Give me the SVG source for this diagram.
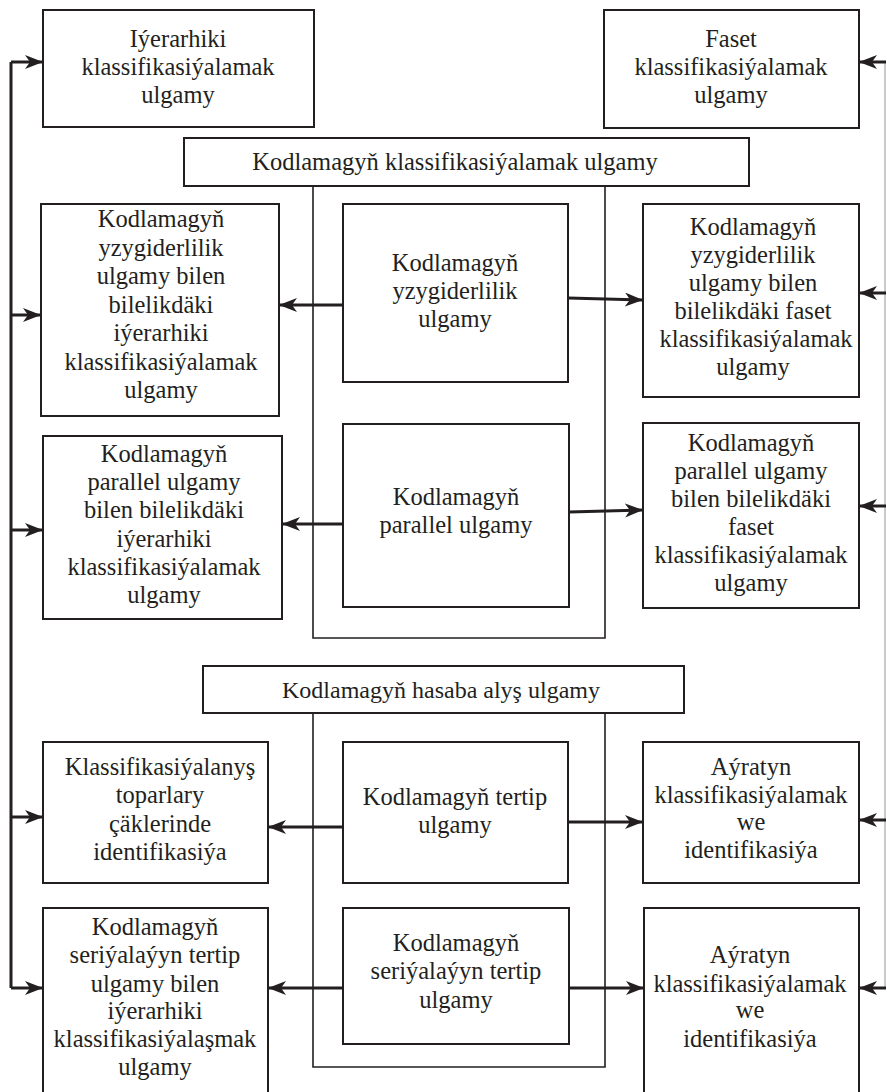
<svg xmlns="http://www.w3.org/2000/svg" width="887" height="1092" viewBox="0 0 887 1092">
<defs>
<marker id="ah" markerUnits="userSpaceOnUse" markerWidth="20" markerHeight="16" refX="18" refY="7" orient="auto">
<path d="M0,0 L18,7 L0,14 L5,7 Z" fill="#231f20"/>
</marker>
<style>
.box{fill:#fff;stroke:#231f20;stroke-width:2}
.frame{fill:none;stroke:#231f20;stroke-width:1.6}
.t{font-family:"Liberation Serif","Times New Roman",serif;font-size:24.5px;fill:#231f20;text-anchor:middle}
.c{fill:none;stroke:#231f20;stroke-width:3;marker-end:url(#ah)}
.bus{fill:none;stroke:#231f20;stroke-width:3}
.rbus{fill:none;stroke:#b8b8b8;stroke-width:1.5}
</style>
</defs>
<rect width="887" height="1092" fill="#fff"/>
<g id="frames">
<path class="frame" d="M313,186 V638 H605 V186"/>
<path class="frame" d="M313,713 V1067 H605 V713"/>
</g>
<g id="n-hier"><rect class="box" x="43" y="10" width="271" height="117"/>
<text class="t" x="178" y="47">Iýerarhiki</text><text class="t" x="178" y="75">klassifikasiýalamak</text><text class="t" x="178" y="103">ulgamy</text></g>
<g id="n-faset"><rect class="box" x="604" y="10" width="255" height="118"/>
<text class="t" x="731" y="47">Faset</text><text class="t" x="731" y="75">klassifikasiýalamak</text><text class="t" x="731" y="103">ulgamy</text></g>
<g id="n-kks"><rect class="box" x="184" y="138" width="565" height="48"/>
<text class="t" x="455" y="170">Kodlamagyň klassifikasiýalamak ulgamy</text></g>
<g id="n-l1"><rect class="box" x="41" y="204" width="238" height="212"/>
<text class="t"><tspan x="161" y="227">Kodlamagyň</tspan><tspan x="161" y="255.5">yzygiderlilik</tspan><tspan x="161" y="284">ulgamy bilen</tspan><tspan x="161" y="312.5">bilelikdäki</tspan><tspan x="161" y="341">iýerarhiki</tspan><tspan x="161" y="369.5">klassifikasiýalamak</tspan><tspan x="161" y="398">ulgamy</tspan></text></g>
<g id="n-m1"><rect class="box" x="343" y="204" width="225" height="178"/>
<text class="t"><tspan x="455" y="271">Kodlamagyň</tspan><tspan x="455" y="299">yzygiderlilik</tspan><tspan x="455" y="327">ulgamy</tspan></text></g>
<g id="n-r1"><rect class="box" x="643" y="204" width="216" height="193"/>
<text class="t"><tspan x="753" y="235">Kodlamagyň</tspan><tspan x="753" y="263">yzygiderlilik</tspan><tspan x="753" y="291">ulgamy bilen</tspan><tspan x="753" y="319">bilelikdäki faset</tspan><tspan x="756" y="347">klassifikasiýalamak</tspan><tspan x="753" y="375">ulgamy</tspan></text></g>
<g id="n-l2"><rect class="box" x="43" y="436" width="239" height="183"/>
<text class="t"><tspan x="164" y="462">Kodlamagyň</tspan><tspan x="164" y="490">parallel ulgamy</tspan><tspan x="164" y="518">bilen bilelikdäki</tspan><tspan x="164" y="547">iýerarhiki</tspan><tspan x="164" y="575">klassifikasiýalamak</tspan><tspan x="164" y="603">ulgamy</tspan></text></g>
<g id="n-m2"><rect class="box" x="343" y="424" width="226" height="183"/>
<text class="t"><tspan x="456" y="505">Kodlamagyň</tspan><tspan x="456" y="533">parallel ulgamy</tspan></text></g>
<g id="n-r2"><rect class="box" x="643" y="423" width="216" height="185"/>
<text class="t"><tspan x="751" y="451">Kodlamagyň</tspan><tspan x="751" y="479">parallel ulgamy</tspan><tspan x="751" y="507">bilen bilelikdäki</tspan><tspan x="751" y="535">faset</tspan><tspan x="751" y="563">klassifikasiýalamak</tspan><tspan x="751" y="591">ulgamy</tspan></text></g>
<g id="n-has"><rect class="box" x="203" y="666" width="481" height="47"/>
<text class="t" x="441" y="698" style="font-size:24px">Kodlamagyň hasaba alyş ulgamy</text></g>
<g id="n-l3"><rect class="box" x="43" y="742" width="225" height="141"/>
<text class="t"><tspan x="160" y="775">Klassifikasiýalanyş</tspan><tspan x="160" y="803">toparlary</tspan><tspan x="160" y="832">çäklerinde</tspan><tspan x="160" y="860">identifikasiýa</tspan></text></g>
<g id="n-m3"><rect class="box" x="343" y="742" width="225" height="141"/>
<text class="t"><tspan x="455" y="805">Kodlamagyň tertip</tspan><tspan x="455" y="833">ulgamy</tspan></text></g>
<g id="n-r3"><rect class="box" x="643" y="742" width="216" height="141"/>
<text class="t"><tspan x="751" y="775">Aýratyn</tspan><tspan x="751" y="803">klassifikasiýalamak</tspan><tspan x="751" y="830">we</tspan><tspan x="751" y="858">identifikasiýa</tspan></text></g>
<g id="n-l4"><rect class="box" x="43" y="908" width="225" height="200"/>
<text class="t"><tspan x="155" y="935">Kodlamagyň</tspan><tspan x="155" y="963">seriýalaýyn tertip</tspan><tspan x="155" y="992">ulgamy bilen</tspan><tspan x="155" y="1019">iýerarhiki</tspan><tspan x="155" y="1047">klassifikasiýalaşmak</tspan><tspan x="155" y="1075">ulgamy</tspan></text></g>
<g id="n-m4"><rect class="box" x="343" y="908" width="226" height="136"/>
<text class="t"><tspan x="456" y="951">Kodlamagyň</tspan><tspan x="456" y="979">seriýalaýyn tertip</tspan><tspan x="456" y="1008">ulgamy</tspan></text></g>
<g id="n-r4"><rect class="box" x="644" y="908" width="215" height="200"/>
<text class="t"><tspan x="750" y="963">Aýratyn</tspan><tspan x="750" y="992">klassifikasiýalamak</tspan><tspan x="750" y="1018">we</tspan><tspan x="750" y="1047">identifikasiýa</tspan></text></g>
<g id="connectors">
<path class="bus" d="M11,62 V988"/>
<path class="rbus" d="M885,62 V988"/>
<path class="c" d="M11,62 H43"/>
<path class="c" d="M11,315 H41"/>
<path class="c" d="M11,530 H43"/>
<path class="c" d="M11,817 H43"/>
<path class="c" d="M11,988 H43"/>
<path class="c" d="M886,62 H859"/>
<path class="c" d="M886,293 H859"/>
<path class="c" d="M886,506 H859"/>
<path class="c" d="M886,820 H859"/>
<path class="c" d="M886,988 H859"/>
<path class="c" d="M343,305 H279"/>
<path class="c" d="M568,298 L643,300"/>
<path class="c" d="M343,524 H282"/>
<path class="c" d="M569,512 L643,510"/>
<path class="c" d="M343,827 H268"/>
<path class="c" d="M568,822 H643"/>
<path class="c" d="M343,988 H268"/>
<path class="c" d="M569,988 H644"/>
</g>
</svg>
